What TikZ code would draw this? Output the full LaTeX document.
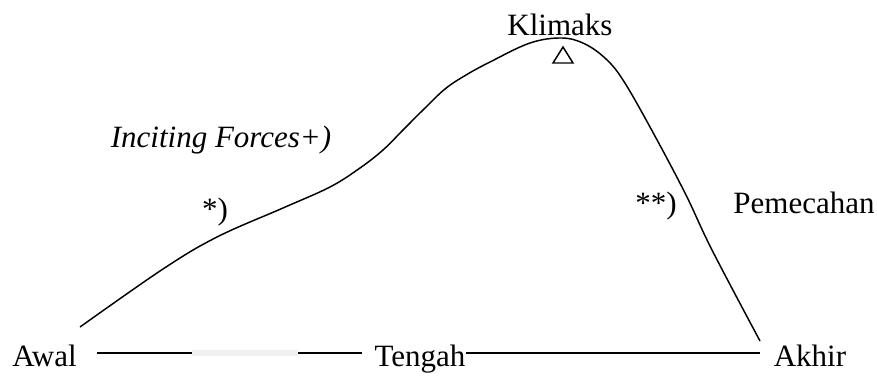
\documentclass[tikz,border=0pt]{standalone}
\usepackage{fontspec}
\setmainfont{Liberation Serif}
\usetikzlibrary{positioning}

\begin{document}
\begin{tikzpicture}[x=0.75pt,y=-0.75pt,
  lbl/.style={inner sep=0pt,anchor=base,font=\fontsize{23.25}{28}\selectfont},
  alur/.style={line width=1.1pt,line join=round}]
  \useasboundingbox (0,0) rectangle (877,375);
  % labels
  \node[lbl] (klimaks) at (560,35) {Klimaks};
  \node[lbl] (inciting) at (221,147) {\itshape Inciting Forces+)};
  \node[lbl] (bintang) at (215,219) {*)};
  \node[lbl] (bintangdua) at (656,213) {**)};
  \node[lbl] (pemecahan) at (804,213) {Pemecahan};
  \node[lbl] (awal) at (44.5,366) {Awal};
  \node[lbl] (tengah) at (420,366) {Tengah};
  \node[lbl] (akhir) at (810,366) {Akhir};
  % the plot curve
  \draw[alur] plot[smooth,tension=0.6] coordinates {
    (80,327) (163,269) (217,237) (283,208) (330,187) (360,168)
    (383,150) (403,130) (423,110) (445,89) (466,75) (490,62)
    (530,43) (562,38) (585,44) (606,59) (623,80)
    (650,127) (685,193) (712,250) (760,341)};
  \draw[alur,line join=miter] (563,47) -- (553,63) -- (573,63) -- cycle;
  % time line
  \coordinate (a1) at (97,353);
  \coordinate (a2) at (362,353);
  \coordinate (g1) at (192,353);
  \coordinate (g2) at (298,353);
  \coordinate (t1) at (466,353);
  \coordinate (t2) at (760,353);
  \draw[alur] (a1) -- (a2);
  \draw[line width=4pt,black!6] (g1) -- (g2);
  \draw[alur] (t1) -- (t2);
\end{tikzpicture}
\end{document}
